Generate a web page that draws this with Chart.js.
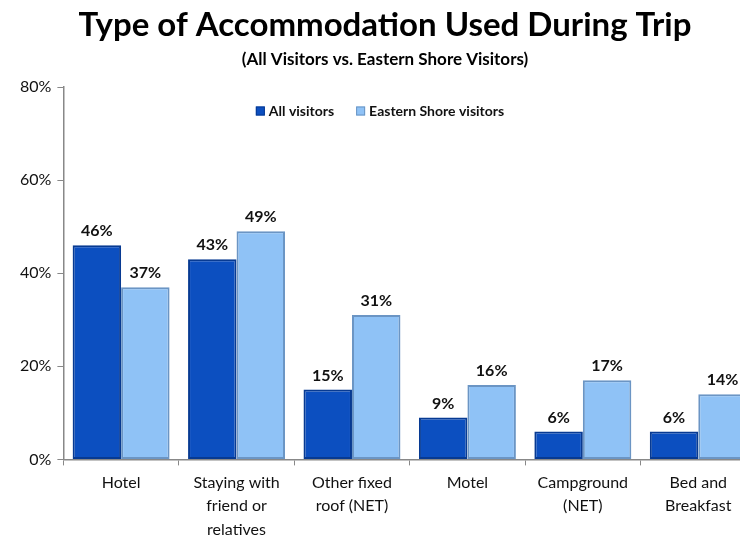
<!DOCTYPE html>
<html>
<head>
<meta charset="utf-8">
<script src="https://cdn.jsdelivr.net/npm/chart.js@4"></script>
<style>
    html, body { margin: 0; padding: 0; background: #fff; overflow: hidden; }
    #wrap { width: 760px; height: 549px; position: relative; }
</style>
</head>
<body>
<div id="wrap"><canvas id="myChart"></canvas></div>
<script>
const categories = [
    'Hotel',
    ['Staying with', 'friend or', 'relatives'],
    ['Other fixed', 'roof (NET)'],
    'Motel',
    ['Campground', '(NET)'],
    ['Bed and', 'Breakfast']
];
const allVisitors = [46, 43, 15, 9, 6, 6];
const easternShoreVisitors = [37, 49, 31, 16, 17, 14];
const yTicks = [0, 20, 40, 60, 80];

// valeurs au-dessus des barres
const valueLabels = {
    id: 'valueLabels',
    afterDatasetsDraw(chart) {
        const ctx = chart.ctx;
        ctx.save();
        ctx.font = 'bold 16px Lato, sans-serif';
        ctx.fillStyle = '#111';
        ctx.textAlign = 'center';
        ctx.textBaseline = 'bottom';
        chart.data.datasets.forEach((ds, i) => {
            chart.getDatasetMeta(i).data.forEach((bar, j) => {
                ctx.fillText(ds.data[j] + '%', bar.x, bar.y - 6);
            });
        });
        ctx.restore();
    }
};

// légende dessinée dans la zone du graphique, centrée en haut
const innerLegend = {
    id: 'innerLegend',
    afterDraw(chart) {
        const ctx = chart.ctx;
        const area = chart.chartArea;
        ctx.save();
        ctx.font = 'bold 14px Lato, sans-serif';
        ctx.textBaseline = 'middle';
        const box = 9, gap = 4, spacing = 22;
        const items = chart.data.datasets.map(ds => ({
            text: ds.label,
            fill: ds.backgroundColor,
            stroke: ds.borderColor,
            w: box + gap + ctx.measureText(ds.label).width
        }));
        const total = items.reduce((s, it) => s + it.w, 0) + spacing * (items.length - 1);
        let x = 380 - total / 2;
        const y = area.top + 24;
        items.forEach(it => {
            ctx.fillStyle = it.fill;
            ctx.fillRect(x, y - box / 2, box, box);
            ctx.strokeStyle = it.stroke;
            ctx.lineWidth = 1;
            ctx.strokeRect(x + 0.5, y - box / 2 + 0.5, box - 1, box - 1);
            ctx.fillStyle = '#111';
            ctx.textAlign = 'left';
            ctx.fillText(it.text, x + box + gap, y);
            x += it.w + spacing;
        });
        ctx.restore();
    }
};

const config = {
    type: 'bar',
    data: {
        labels: categories,
        datasets: [{
            label: 'All visitors',
            data: allVisitors,
            backgroundColor: '#0c4fc0',
            borderColor: '#073a92',
            borderWidth: 2,
            borderSkipped: false
        }, {
            label: 'Eastern Shore visitors',
            data: easternShoreVisitors,
            backgroundColor: '#8fc2f6',
            borderColor: '#6b95c4',
            borderWidth: 2,
            borderSkipped: false
        }]
    },
    options: {
        responsive: true,
        maintainAspectRatio: false,
        animation: false,
        layout: { padding: { left: 14, right: 4, top: 4, bottom: 2 } },
        datasets: {
            bar: { categoryPercentage: 0.84, barPercentage: 1 }
        },
        plugins: {
            title: {
                display: true,
                text: 'Type of Accommodation Used During Trip',
                font: { family: 'Lato', size: 33, weight: 'bold' },
                color: '#000',
                padding: { top: 2, bottom: 4 }
            },
            subtitle: {
                display: true,
                text: '(All Visitors vs. Eastern Shore Visitors)',
                font: { family: 'Lato', size: 17, weight: 'bold' },
                color: '#000',
                padding: { bottom: 17 }
            },
            legend: { display: false },
            tooltip: { enabled: false }
        },
        scales: {
            x: {
                grid: { drawOnChartArea: false, color: '#888', tickLength: 6 },
                border: { color: '#888', width: 1.5 },
                ticks: {
                    color: '#111',
                    font: { family: 'Lato', size: 16, lineHeight: 1.45 },
                    padding: 6,
                    maxRotation: 0
                }
            },
            y: {
                min: 0,
                max: 80,
                afterBuildTicks(axis) {
                    axis.ticks = yTicks.map(v => ({ value: v }));
                },
                grid: { drawOnChartArea: false, color: '#888', tickLength: 6 },
                border: { color: '#888', width: 1.5 },
                ticks: {
                    color: '#111',
                    font: { family: 'Lato', size: 16 },
                    padding: 6,
                    callback: v => v + '%'
                }
            }
        }
    },
    plugins: [valueLabels, innerLegend]
};

new Chart(document.getElementById('myChart'), config);
</script>
</body>
</html>
